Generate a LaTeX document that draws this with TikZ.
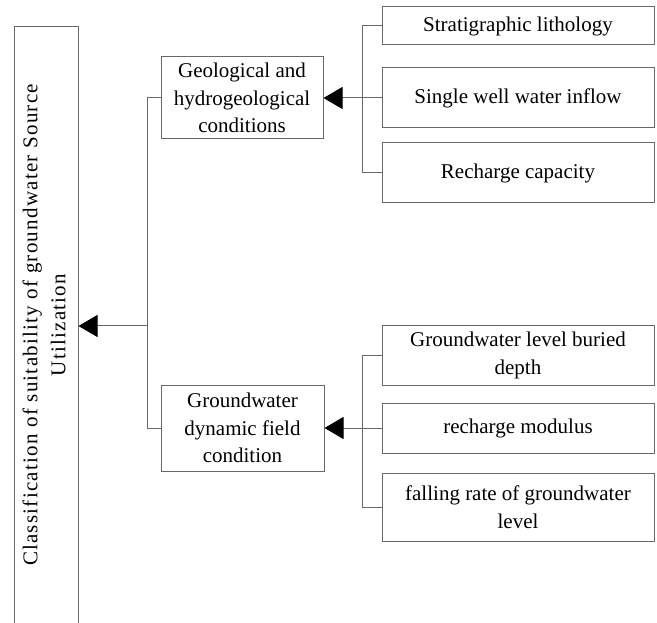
\documentclass[tikz,border=0pt]{standalone}
\usepackage{fontspec}
\setmainfont{Liberation Serif}
\newfontfamily\spreadfont[LetterSpace=6]{Liberation Serif}
\usetikzlibrary{arrows.meta}
\definecolor{linegray}{RGB}{105,105,105}
\tikzset{
  cbox/.style={draw=linegray, line width=1pt, inner sep=0pt, align=center,
    font=\fontsize{21}{27.5}\selectfont},
  leaf/.style={cbox, minimum width=272pt},
  link/.style={draw=linegray, line width=1pt},
  arr/.style={link, -{Triangle[length=19pt,width=22pt,color=black]}},
}
\begin{document}
\begin{tikzpicture}[x=1pt,y=-1pt]
\useasboundingbox (0,0) rectangle (657,623);
\clip (0,0) rectangle (657,623);
% left column, runs off the bottom
\node[cbox, minimum width=64pt, minimum height=700pt] (mainbox) at (46,377) {};
\node[rotate=90, align=center, font=\fontsize{21}{28}\spreadfont] (maintitle) at (44,325)
  {Classification of suitability of groundwater Source\\Utilization};
% middle
\node[cbox, minimum width=162pt, minimum height=82pt] (geo) at (242,98)
  {Geological and\\hydrogeological\\conditions};
\node[cbox, minimum width=163pt, minimum height=86pt] (gwdyn) at (242.5,428)
  {Groundwater\\dynamic field\\condition};
% right
\node[leaf, minimum height=38pt] (strat) at (518,26) {Stratigraphic lithology};
\node[leaf, minimum height=60pt] (well) at (518,98) {Single well water inflow};
\node[leaf, minimum height=60pt] (rech) at (518,173) {Recharge capacity};
\node[leaf, minimum height=59pt] (depth) at (518,355.5) {Groundwater level buried\\depth};
\node[leaf, minimum height=50pt] (modul) at (518,428) {recharge modulus};
\node[leaf, minimum height=68pt] (fall) at (518,507) {falling rate of groundwater\\level};
% connectors
\draw[link] (strat.west) -- ++(-19,0) |- (rech.west);
\draw[arr] (well.west) -- (geo.east);
\draw[link] (depth.west) -- ++(-19,0) |- (fall.west);
\draw[arr] (modul.west) -- (gwdyn.east);
\draw[link] (geo.west) -- ++(-13,0) |- (gwdyn.west);
\coordinate (junc) at (148,326);
\draw[arr] (junc) -- (junc -| mainbox.east);
\end{tikzpicture}
\end{document}
